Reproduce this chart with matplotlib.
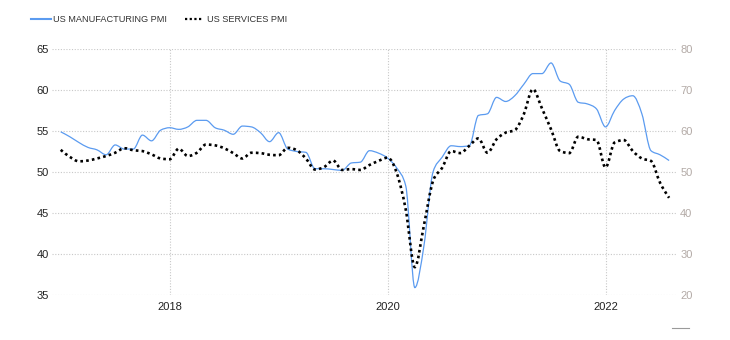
import numpy as np
import matplotlib
matplotlib.use("Agg")
import matplotlib.pyplot as plt
from matplotlib.path import Path
from matplotlib.patches import PathPatch
from matplotlib.lines import Line2D

plt.rcParams['font.family'] = ['Liberation Sans', 'DejaVu Sans']

# Monthly readings, January 2017 through August 2022
start_year = 2017
manufacturing_pmi = [
    54.9, 54.3, 53.6, 53.0, 52.7, 52.1, 53.3, 52.8, 52.8, 54.5, 53.8, 55.1,
    55.4, 55.2, 55.5, 56.3, 56.3, 55.4, 55.1, 54.6, 55.6, 55.5, 54.8, 53.7,
    54.8, 52.8, 52.5, 52.4, 50.4, 50.4, 50.3, 50.2, 51.1, 51.2, 52.6, 52.3,
    51.7, 50.5, 48.3, 35.9, 41.0, 50.0, 51.8, 53.2, 53.1, 53.2, 56.9, 57.1,
    59.1, 58.6, 59.3, 60.7, 62.0, 62.0, 63.3, 61.1, 60.7, 58.5, 58.3, 57.7,
    55.5, 57.5, 58.9, 59.3, 57.1, 52.6, 52.1, 51.4,
]
services_pmi = [
    55.4, 53.7, 52.6, 52.8, 53.3, 53.9, 54.7, 55.8, 55.3, 55.1, 54.3, 53.3,
    53.1, 55.7, 53.9, 54.7, 56.7, 56.5, 55.8, 54.6, 53.3, 54.7, 54.6, 54.2,
    54.1, 55.9, 55.3, 53.3, 50.6, 51.2, 52.8, 50.5, 50.7, 50.5, 51.7, 52.7,
    53.5, 49.8, 40.8, 26.8, 37.0, 47.8, 51.0, 55.1, 54.6, 56.4, 58.2, 54.7,
    58.0, 59.6, 60.2, 64.1, 70.2, 65.5, 60.4, 55.1, 54.6, 58.6, 58.0, 57.8,
    51.1, 57.2, 57.8, 55.1, 53.3, 52.7, 47.4, 43.7,
]
year_labels = ["2018", "2020", "2022"]
left_ticks = [35, 40, 45, 50, 55, 60, 65]
right_ticks = [20, 30, 40, 50, 60, 70, 80]
series_names = ["US MANUFACTURING PMI", "US SERVICES PMI"]


def monotone_path(x, y):
    """Cubic Bezier path through (x, y) with monotone-x tangents."""
    x = np.asarray(x, float)
    y = np.asarray(y, float)
    h = np.diff(x)
    s = np.diff(y) / h
    t = np.zeros_like(y)
    for i in range(1, len(y) - 1):
        p = (s[i - 1] * h[i] + s[i] * h[i - 1]) / (h[i - 1] + h[i])
        t[i] = (np.sign(s[i - 1]) + np.sign(s[i])) * min(abs(s[i - 1]), abs(s[i]), 0.5 * abs(p))
    t[0] = (3 * s[0] - t[1]) / 2
    t[-1] = (3 * s[-1] - t[-2]) / 2
    verts = [(x[0], y[0])]
    codes = [Path.MOVETO]
    for i in range(len(x) - 1):
        d = h[i] / 3
        verts += [(x[i] + d, y[i] + t[i] * d),
                  (x[i + 1] - d, y[i + 1] - t[i + 1] * d),
                  (x[i + 1], y[i + 1])]
        codes += [Path.CURVE4] * 3
    return Path(verts, codes)


months = np.arange(len(manufacturing_pmi))

fig = plt.figure(figsize=(7.3, 3.4), dpi=100)
ax = fig.add_axes([52 / 730, 1 - 295 / 340, (676 - 52) / 730, (295 - 49) / 340])
ax2 = ax.twinx()

blue = '#5b9bf0'
ax.add_patch(PathPatch(monotone_path(months, manufacturing_pmi), fill=False,
                       edgecolor=blue, lw=0.9, zorder=3))
ax2.add_patch(PathPatch(monotone_path(months, services_pmi), fill=False,
                        edgecolor='black', lw=1.9, linestyle=(0, (1, 1.2)),
                        capstyle='butt', zorder=3))

ax.set_xlim(-0.96, 67.76)
ax.set_ylim(35, 65)
ax2.set_ylim(20, 80)

year_pos = [(int(lbl) - start_year) * 12 for lbl in year_labels]
ax.set_xticks(year_pos)
ax.set_xticklabels(year_labels)
ax.set_yticks(left_ticks)
ax2.set_yticks(right_ticks)

grid_kw = dict(color='#c8c8c8', linestyle=(0, (1, 1.5)), linewidth=0.8)
ax.grid(True, axis='both', **grid_kw)
ax.set_axisbelow(True)

for a in (ax, ax2):
    for sp in a.spines.values():
        sp.set_visible(False)

ax.tick_params(axis='both', length=0, labelsize=8, colors='#222222')
ax.tick_params(axis='y', pad=2)
ax.tick_params(axis='x', pad=5)
ax2.tick_params(axis='y', length=0, labelsize=8, colors='#b3aaa6', pad=3)

# Legend drawn along the top edge
ly = 1 - 19 / 340
fig.add_artist(Line2D([31 / 730, 51 / 730], [ly, ly], color=blue, lw=1.5,
                      transform=fig.transFigure))
fig.text(53 / 730, ly, series_names[0], fontsize=6.6, va='center', ha='left',
         color='#333333')
fig.add_artist(Line2D([185 / 730, 202 / 730], [ly, ly], color='black', lw=1.6,
                      linestyle=(0, (1, 1.1)), transform=fig.transFigure))
fig.text(207 / 730, ly, series_names[1], fontsize=6.6, va='center', ha='left',
         color='#333333')

# small marker at the lower right corner
fig.add_artist(Line2D([672 / 730, 689 / 730], [1 - 328 / 340] * 2, color='#9a9a9a',
                      lw=0.8, transform=fig.transFigure))

fig.savefig('out.png', dpi=100)
